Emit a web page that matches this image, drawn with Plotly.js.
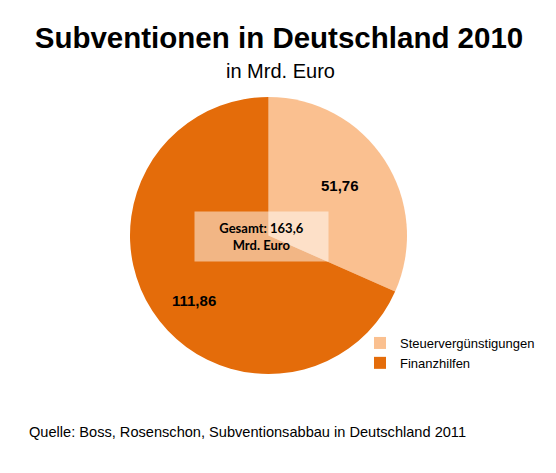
<!DOCTYPE html>
<html>
<head>
<meta charset="utf-8">
<script src="https://cdn.plot.ly/plotly-3.0.1.min.js"></script>
<style>
  html, body { margin: 0; padding: 0; background: #fff; }
  #chart { width: 556px; height: 473px; }
</style>
</head>
<body>
<div id="chart"></div>
<script>
// Werte in Mrd. Euro
const categories = ['Steuervergünstigungen', 'Finanzhilfen'];
const values = [51.76, 111.86];
const colors = ['#FAC090', '#E46C0A'];

const W = 556, H = 473;
const cx = 268.5, cy = 235.5, R = 138.5;
const labelRadius = [0.63, 0.71];
const labelTurn = [-2, -8]; // Grad

const fmt = (v, d) => v.toFixed(d).replace('.', ',');
const total = values.reduce((a, b) => a + b, 0);

// Beschriftungen an der Winkelmitte jedes Segments (im Uhrzeigersinn ab 12 Uhr)
const annotations = [];
let acc = 0;
values.forEach((v, i) => {
    const mid = (acc + v / 2) / total * 2 * Math.PI + labelTurn[i] * Math.PI / 180;
    acc += v;
    const px = cx + Math.sin(mid) * R * labelRadius[i];
    const py = cy - Math.cos(mid) * R * labelRadius[i];
    annotations.push({
        x: px / W, y: 1 - py / H, xref: 'paper', yref: 'paper',
        xanchor: 'center', yanchor: 'middle',
        text: '<b>' + fmt(v, 2) + '</b>', showarrow: false,
        font: { family: 'Arial', size: 15, color: '#000' }
    });
});

annotations.push({
    x: 261.5 / W, y: 1 - 236.5 / H, xref: 'paper', yref: 'paper',
    xanchor: 'center', yanchor: 'middle',
    text: '<b>Gesamt: ' + fmt(total, 1) + '<br>Mrd. Euro</b>',
    showarrow: false, width: 131, height: 47, align: 'center',
    bgcolor: 'rgba(255,255,255,0.5)',
    font: { family: 'Lato, Arial', size: 13, color: '#000' }
});

annotations.push({
    x: 27 / W, y: 1 - 432 / H, xref: 'paper', yref: 'paper',
    xanchor: 'left', yanchor: 'middle',
    text: 'Quelle: Boss, Rosenschon, Subventionsabbau in Deutschland 2011',
    showarrow: false, font: { family: 'Arial', size: 14.6, color: '#000' }
});

annotations.push({
    x: 280 / W, y: 1 - 71 / H, xref: 'paper', yref: 'paper',
    xanchor: 'center', yanchor: 'middle',
    text: 'in Mrd. Euro', showarrow: false,
    font: { family: 'Arial', size: 20, color: '#000' }
});

const data = [{
    type: 'pie',
    labels: categories,
    values: values,
    marker: { colors: colors, line: { width: 0 } },
    sort: false,
    direction: 'clockwise',
    rotation: 0,
    textinfo: 'none',
    hoverinfo: 'label+value',
    domain: { x: [(cx - R) / W, (cx + R) / W], y: [1 - (cy + R) / H, 1 - (cy - R) / H] }
}];

const layout = {
    width: W, height: H,
    margin: { t: 0, b: 0, l: 0, r: 0 },
    paper_bgcolor: '#fff',
    separators: ',.',
    title: {
        text: '<b>Subventionen in Deutschland 2010</b>',
        x: 279 / W, xanchor: 'center', y: 1 - 38 / H, yanchor: 'middle',
        font: { family: 'Arial', size: 29.5, color: '#000' }
    },
    showlegend: true,
    legend: {
        x: 360 / W, y: 1 - 328 / H, xanchor: 'left', yanchor: 'top',
        bgcolor: 'rgba(0,0,0,0)',
        font: { family: 'Arial', size: 13, color: '#000' },
        itemwidth: 30, tracegroupgap: 0
    },
    annotations: annotations
};

Plotly.newPlot('chart', data, layout, { displayModeBar: false, staticPlot: true });
</script>
</body>
</html>
